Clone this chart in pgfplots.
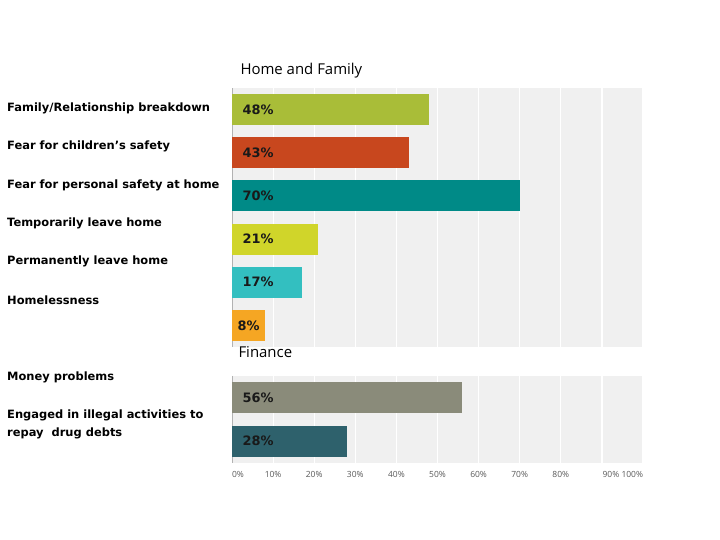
\documentclass[border=0pt]{standalone}
\usepackage{pgfplots}
\pgfplotsset{compat=1.18}
\usepackage{fontspec}
\setmainfont{DejaVu Sans}
\newfontfamily\carl{Open Sans}
\definecolor{bggray}{HTML}{F0F0F0}
\definecolor{c1}{HTML}{A9BD38}
\definecolor{c2}{HTML}{C8471E}
\definecolor{c3}{HTML}{008A87}
\definecolor{c4}{HTML}{D0D52A}
\definecolor{c5}{HTML}{33BFC0}
\definecolor{c6}{HTML}{F5A623}
\definecolor{c7}{HTML}{8A8B7A}
\definecolor{c8}{HTML}{2E616C}
\begin{document}
\begin{tikzpicture}
\path[fill=white,use as bounding box] (0,0) rectangle (720bp,540bp);
\pgfplotsset{panel/.style={
  scale only axis, xbar, xmin=0, xmax=100, y dir=reverse,
  bar width=31bp, bar shift=0pt,
  xtick={0,10,...,100}, xmajorgrids, grid style={white,line width=1.2bp},
  ytick=\empty, major tick length=0pt,
  axis background/.style={fill=bggray},
  axis lines*=left, x axis line style={draw=none},
  y axis line style={draw=black!30,line width=0.8bp},
  point meta=x,
  /pgf/number format/assume math mode=true,
  visualization depends on={x \as \rawx},
  nodes near coords={\pgfmathprintnumber{\pgfplotspointmeta}\%},
  every node near coord/.append style={shift={(axis direction cs:-\rawx,0)},
     anchor=west, xshift=7bp, font=\bfseries\fontsize{13}{13}\selectfont, text=black!90},
}}
\begin{axis}[panel, at={(232bp,193bp)}, anchor=south west, width=411bp, height=259bp,
  ymin=0.5, ymax=6.5, xticklabels={}]
\addplot[fill=c1, draw=none] coordinates {(48,1)};
\addplot[fill=c2, draw=none] coordinates {(43,2)};
\addplot[fill=c3, draw=none] coordinates {(70,3)};
\addplot[fill=c4, draw=none] coordinates {(21,4)};
\addplot[fill=c5, draw=none] coordinates {(17,5)};
\addplot[fill=c6, draw=none, every node near coord/.append style={xshift=-5bp}] coordinates {(8,6)};
\end{axis}
\begin{axis}[panel, at={(232bp,77bp)}, anchor=south west, width=411bp, height=87bp,
  ymin=0.5, ymax=2.5,
  xticklabels={\makebox[0pt][l]{0\%},10\%,20\%,30\%,40\%,50\%,60\%,70\%,80\%,\makebox[0pt]{\hspace{18bp}90\%},\makebox[0pt][r]{100\%}},
  xticklabel style={font=\carl\fontsize{8.5}{9}\selectfont, text=black!65, yshift=-5bp}]
\addplot[fill=c7, draw=none] coordinates {(56,1)};
\addplot[fill=c8, draw=none] coordinates {(28,2)};
\end{axis}
\node[anchor=west, font=\carl\fontsize{15}{15}\selectfont] at (237bp,469bp) {Home and Family};
\node[anchor=west, font=\carl\fontsize{15}{15}\selectfont] at (235bp,188bp) {Finance};
\begin{scope}[every node/.style={anchor=west, inner sep=0pt, font=\bfseries\fontsize{11.5}{18}\selectfont, align=left}]
\node at (7bp,432bp) {Family/Relationship breakdown};
\node at (7bp,394bp) {Fear for children’s safety};
\node at (7bp,355bp) {Fear for personal safety at home};
\node at (7bp,317bp) {Temporarily leave home};
\node at (7bp,279bp) {Permanently leave home};
\node at (7bp,240bp) {Homelessness};
\node at (7bp,163bp) {Money problems};
\node at (7bp,116bp) {Engaged in illegal activities to\\repay\ \ drug debts};
\end{scope}
\end{tikzpicture}
\end{document}
